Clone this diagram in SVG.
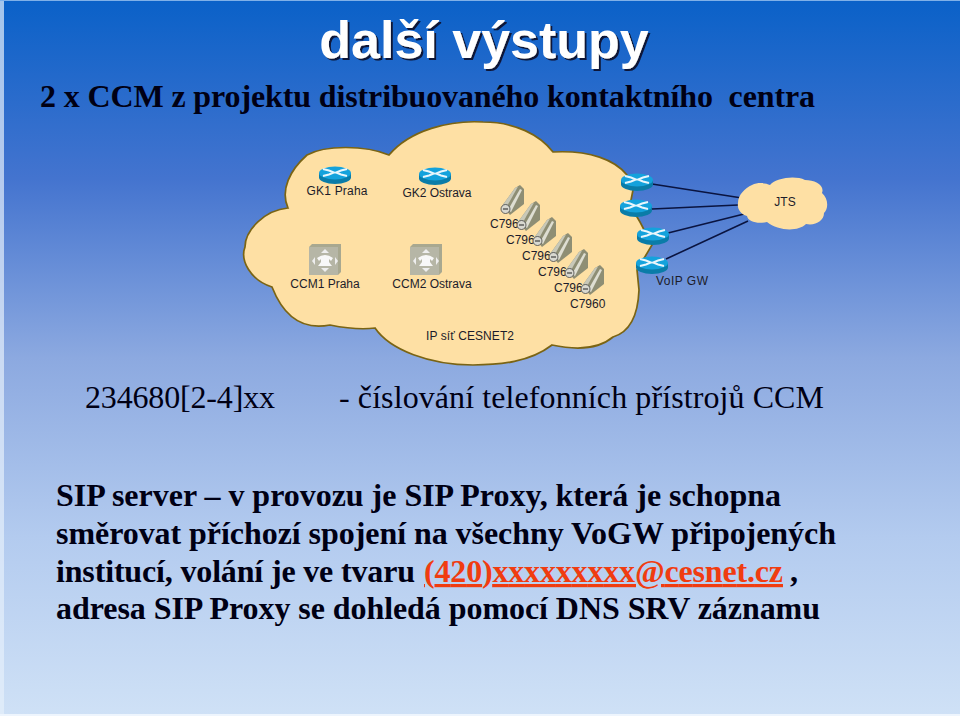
<svg xmlns="http://www.w3.org/2000/svg" width="960" height="716" viewBox="0 0 960 716">
<defs>
<linearGradient id="bg" x1="0" y1="0" x2="0" y2="1"><stop offset="0" stop-color="#0a61c8"/><stop offset="0.25" stop-color="#4474cf"/><stop offset="0.5" stop-color="#8ca9e0"/><stop offset="0.75" stop-color="#b3cbef"/><stop offset="1" stop-color="#cfe1f6"/></linearGradient>
<filter id="sh" x="-5%" y="-10%" width="110%" height="125%"><feDropShadow dx="2" dy="2" stdDeviation="0.4" flood-color="#0c1638"/></filter>
<g id="router"><path d="M-16,-2V2.500A16,6.500 0 0 0 16,2.500V-2Z" fill="#0a7ca8"/><ellipse cx="0" cy="-2" rx="16" ry="6.500" fill="#14a2dc"/><path d="M-12,-6L-6,-4.500L-1,-2.500L-6,-0.500L-12,1M12,-6L6,-4.500L1,-2.500L6,-0.500L12,1" fill="none" stroke="#e8f6fc" stroke-width="1.900"/></g>
<g id="ccm"><path d="M-16,-13L-13,-16H16V12L13,15H-16Z" fill="#a8a890"/><rect x="-16" y="-13" width="29" height="28" fill="#b6b6a6"/><path d="M0,-11L-4,-7H4ZM0,12L-4,8H4ZM-13,1L-10,-3V5ZM13,1L10,-3V5Z" fill="#eee"/><path d="M-8,-2Q0,-8 8,-2L6,1L4,-1V2L7,6H-7L-4,2V-1L-6,1Z" fill="#f8f8f8"/></g>
<g id="phone"><path d="M-9,5L4,-13L9,-16L13,-12V3L-1,14Z" fill="#8e8e74"/><path d="M-9,5L4,-13L7,-14.500L-5,7Z" fill="#c8c8b8"/><path d="M-3,9L9,-12L11,-11L0,11Z" fill="#deded2"/><circle cx="-5.500" cy="8" r="4.500" fill="#d8d8d0" stroke="#444" stroke-width="0.800"/><path d="M-8,8H-3" stroke="#222" stroke-width="1"/></g>
</defs>
<style>
.s{font-family:"Liberation Sans",Arial,sans-serif;font-size:12px;fill:#1c1c2a}
.b{font-family:"Liberation Serif","Times New Roman",serif;font-weight:bold;font-size:32px;fill:#000014}
.r{font-family:"Liberation Serif","Times New Roman",serif;font-size:32px;fill:#000014}
.l{fill:none;stroke:#0a1440;stroke-width:1.600}
</style>
<rect width="960" height="716" fill="url(#bg)"/>
<rect x="0" y="0" width="4" height="716" fill="#e6f0fb" opacity="0.7"/>
<rect x="0" y="0" width="960" height="1" fill="#7fb0e8"/>
<rect x="0" y="714" width="960" height="2" fill="#eef5fd"/>

<g id="title">
<text x="484" y="58" text-anchor="middle" font-family="Liberation Sans,Arial,sans-serif" font-size="52" font-weight="bold" fill="#fff" filter="url(#sh)">další výstupy</text>
</g>
<text class="b" x="40" y="107" textLength="775" xml:space="preserve">2 x CCM z projektu distribuovaného kontaktního  centra</text>

<g id="cloud-cesnet"><path d="M389,155C410,130 450,120 483,122C515,122 540,135 553,152C590,150 615,160 627,175L633,190L630,205L640,222L652,245L637,270L639,290C638,315 630,332 613,337C600,348 580,351 552,345C530,362 500,365 473,365C430,365 390,350 375,328C360,330 345,328 330,325C305,330 285,320 272,287C250,280 240,260 245,247C245,230 265,210 288,208C280,190 290,170 307,155C325,145 365,145 389,155Z" fill="#fee0a4" stroke="#7a6414" stroke-width="1.700"/></g>
<g id="connectors">
<path class="l" d="M652,184L742,198M652,209L738,205M668,233L744,214M666,259L748,221"/>
</g>
<g id="cloud-jts"><path d="M738,203C738,195 745,188 752,185C758,182 766,183 770,185C776,178 795,175 805,180C815,180 825,185 822,193C828,198 829,208 824,213C824,221 815,226 806,224C798,232 778,231 767,222C758,224 748,222 747,216C740,214 737,208 738,203Z" fill="#fee0a4"/><text class="s" x="785" y="206" text-anchor="middle">JTS</text></g>

<g id="gk1"><use href="#router" x="335" y="175"/><text class="s" x="337" y="195" text-anchor="middle" textLength="61">GK1 Praha</text></g>
<g id="gk2"><use href="#router" x="435" y="176"/><text class="s" x="437" y="197" text-anchor="middle" textLength="69">GK2 Ostrava</text></g>
<g id="ccm1"><use href="#ccm" x="325" y="260"/><text class="s" x="325" y="288" text-anchor="middle">CCM1 Praha</text></g>
<g id="ccm2"><use href="#ccm" x="426" y="260"/><text class="s" x="432" y="288" text-anchor="middle">CCM2 Ostrava</text></g>

<g id="phone1"><text class="s" x="490" y="228">C796</text><use href="#phone" x="511" y="201"/></g>
<g id="phone2"><text class="s" x="506" y="244">C796</text><use href="#phone" x="527" y="217"/></g>
<g id="phone3"><text class="s" x="522" y="260">C796</text><use href="#phone" x="543" y="233"/></g>
<g id="phone4"><text class="s" x="538" y="276">C796</text><use href="#phone" x="559" y="249"/></g>
<g id="phone5"><text class="s" x="554" y="292">C796</text><use href="#phone" x="575" y="265"/></g>
<g id="phone6"><use href="#phone" x="591" y="281"/><text class="s" x="570" y="308">C7960</text></g>

<g id="gw1"><use href="#router" x="637" y="182"/></g>
<g id="gw2"><use href="#router" x="636" y="208"/></g>
<g id="gw3"><use href="#router" x="653" y="236"/></g>
<g id="gw4"><use href="#router" x="652" y="265"/></g>
<text class="s" x="656" y="285" textLength="52">VoIP GW</text>
<text class="s" x="426" y="340" textLength="88">IP síť CESNET2</text>

<text class="r" x="85" y="408" textLength="190">234680[2-4]xx</text>
<text class="r" x="339" y="408" textLength="485">- číslování telefonních přístrojů CCM</text>

<text class="b" x="56" y="506" textLength="725">SIP server – v provozu je SIP Proxy, která je schopna</text>
<text class="b" x="56" y="544" textLength="780">směrovat příchozí spojení na všechny VoGW připojených</text>
<text class="b" x="56" y="582" textLength="359">institucí, volání je ve tvaru</text>
<text class="b" x="424" y="582" textLength="359" style="fill:#f03c10" text-decoration="underline">(420)xxxxxxxxx@cesnet.cz</text>
<text class="b" x="790" y="582">,</text>
<text class="b" x="56" y="619" textLength="764">adresa SIP Proxy se dohledá pomocí DNS SRV záznamu</text>
</svg>
